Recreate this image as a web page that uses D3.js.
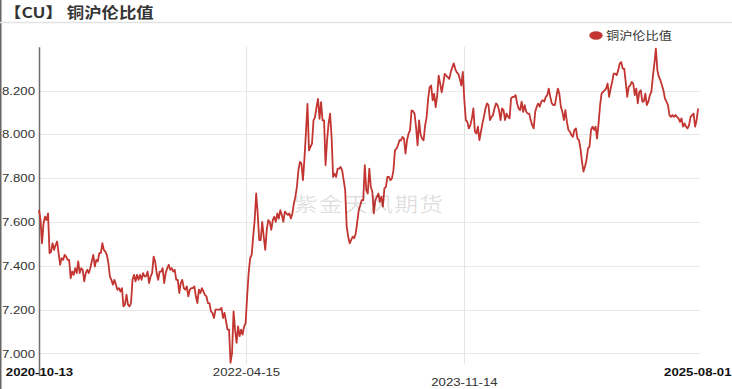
<!DOCTYPE html>
<html>
<head>
<meta charset="utf-8">
<title>铜沪伦比值</title>
<script src="https://cdn.jsdelivr.net/npm/d3@7"></script>
<style>
  html, body { margin: 0; padding: 0; background: #fff; }
  #chart { width: 732px; height: 389px; }
</style>
</head>
<body>
<div id="chart"></div>
<script>
// 数据：起始日期 + 每4天一个点的比值
const startDate = "2020-10-13";
const endDate = "2025-08-01";
const stepDays = 4;

const ratioValues = [
  7.655,7.609,7.503,7.594,7.624,7.609,7.639,7.458,7.465,7.503,
  7.473,7.495,7.511,7.458,7.405,7.435,7.427,7.450,7.442,7.427,
  7.427,7.344,7.374,7.359,7.389,7.367,7.420,7.367,7.389,7.382,
  7.329,7.367,7.382,7.367,7.389,7.420,7.450,7.397,7.427,7.420,
  7.458,7.458,7.503,7.473,7.465,7.450,7.412,7.352,7.336,7.314,
  7.336,7.314,7.291,7.298,7.283,7.298,7.215,7.223,7.268,7.223,
  7.215,7.230,7.336,7.359,7.329,7.359,7.336,7.359,7.336,7.367,
  7.352,7.352,7.374,7.321,7.352,7.367,7.442,7.420,7.367,7.336,
  7.374,7.374,7.389,7.321,7.367,7.389,7.405,7.382,7.389,7.374,
  7.382,7.336,7.336,7.276,7.321,7.336,7.298,7.291,7.306,7.261,
  7.291,7.298,7.298,7.306,7.261,7.230,7.291,7.276,7.298,7.283,
  7.268,7.261,7.230,7.230,7.192,7.185,7.162,7.200,7.200,7.200,
  7.200,7.208,7.162,7.185,7.147,7.109,7.109,6.958,7.003,7.192,
  7.109,7.048,7.124,7.079,7.109,7.086,7.124,7.139,7.261,7.367,
  7.435,7.450,7.533,7.609,
  7.730,7.639,7.518,7.518,7.601,7.533,7.473,7.564,7.609,7.601,
  7.564,7.609,7.624,7.601,7.639,7.616,7.654,7.632,7.601,7.647,
  7.639,7.632,7.639,7.616,7.639,7.685,7.715,7.761,7.836,7.874,
  7.867,7.791,7.889,8.011,8.139,7.927,7.943,7.958,8.064,8.079,
  8.124,8.162,8.071,8.147,8.064,8.064,7.859,7.973,8.049,8.094,
  7.988,7.806,7.821,7.806,7.844,7.844,7.851,7.836,7.791,7.745,
  7.579,7.533,7.503,7.518,7.533,7.526,7.548,7.601,7.654,7.677,
  7.700,7.700,7.859,7.745,7.730,7.844,7.761,7.738,7.639,7.700,
  7.715,7.730,7.692,7.715,7.670,7.753,7.760,7.806,7.806,7.791,
  7.799,7.836,7.927,7.935,7.950,7.973,7.973,7.988,7.981,7.912,
  7.973,8.003,8.018,8.109,8.106,8.094,8.033,7.950,8.064,7.998,
  7.980,7.973,8.041,8.079,8.162,8.215,8.223,8.155,8.185,8.124,
  8.177,8.268,8.230,8.192,8.230,8.276,8.268,8.261,8.253,8.283,
  8.306,8.324,8.298,8.283,8.276,8.253,8.223,
  8.285,8.156,8.065,8.057,8.027,8.042,8.073,8.118,8.012,8.004,
  8.035,7.974,8.012,8.050,8.080,8.118,8.141,8.133,8.065,8.080,
  8.088,8.118,8.141,8.133,8.111,8.065,8.118,8.111,8.065,8.095,
  8.080,8.073,8.164,8.171,8.171,8.179,8.141,8.118,8.111,8.149,
  8.103,8.133,8.103,8.095,8.095,8.065,8.042,8.027,8.103,8.126,
  8.141,8.126,8.149,8.156,8.149,8.171,8.179,8.209,8.171,8.141,
  8.133,8.133,8.171,8.209,8.186,8.126,8.103,8.065,8.111,8.057,
  8.020,8.012,7.996,7.989,8.020,8.027,7.981,7.974,7.936,7.876,
  7.830,7.853,7.883,7.936,7.944,8.020,8.035,8.020,8.035,7.981,
  8.050,8.133,8.186,8.194,8.201,8.209,8.232,8.171,8.209,8.239,
  8.277,8.277,8.270,8.292,8.323,8.330,8.300,8.300,8.239,8.171,
  8.217,8.224,8.239,8.232,8.179,8.209,8.141,8.194,8.201,8.149,
  8.149,8.186,8.133,8.149,8.179,8.194,8.262,8.323,8.391,8.292,
  8.262,8.247,8.224,8.201,8.164,8.149,8.133,8.088,8.080,8.088,
  8.080,8.088,8.080,8.073,8.057,8.073,8.035,8.050,8.035,8.027,
  8.042,8.080,8.088,8.095,8.035,8.065,8.118
];

const yTickValues = [7.0, 7.2, 7.4, 7.6, 7.8, 8.0, 8.2];
const xTickLabels = ["2020-10-13", "2022-04-15", "2023-11-14", "2025-08-01"];
const titleText = "【CU】 铜沪伦比值";
const seriesName = "铜沪伦比值";
const watermarkText = "紫金天风期货";

// 画布尺寸与边距
const width = 732, height = 389;
const margin = { top: 46.7, right: 32, bottom: 13.6, left: 39 };
const stretch = 1.2; // 原图文字横向被拉宽
const numFont = "'Liberation Sans', Arial, sans-serif";
const cjkFont = "'Noto Sans CJK SC', 'Noto Sans', sans-serif";
const lineColor = "#c23531";

const parseDate = d3.timeParse("%Y-%m-%d");
const t0 = parseDate(startDate);
const data = ratioValues.map((v, i) => ({ date: d3.timeDay.offset(t0, i * stepDays), value: v }));

const svg = d3.select("#chart").append("svg")
  .attr("width", width)
  .attr("height", height);

// 比例尺
const x = d3.scaleTime()
  .domain([t0, parseDate(endDate)])
  .range([margin.left, width - margin.right]);
const y = d3.scaleLinear()
  .domain([6.9, 8.4])
  .range([height - margin.bottom, margin.top]);

// 左边框 + 标题 + 分隔线
svg.append("line")
  .attr("x1", 0.75).attr("x2", 0.75).attr("y1", 0).attr("y2", height)
  .attr("stroke", "#666").attr("stroke-width", 1.5);

svg.append("text")
  .attr("transform", `translate(4,18) scale(${stretch},1)`)
  .attr("fill", "#333")
  .style("font", `bold 14.5px ${cjkFont}`)
  .text(titleText);

svg.append("line")
  .attr("x1", 0).attr("x2", width).attr("y1", 22.5).attr("y2", 22.5)
  .attr("stroke", "#e2e2e2").attr("stroke-width", 1.5);

// 图例
const legend = svg.append("g").attr("transform", "translate(596,35.5)");
legend.append("ellipse").attr("rx", 6.7).attr("ry", 4.2).attr("fill", lineColor);
legend.append("text")
  .attr("transform", `translate(10,4) scale(${stretch},1)`)
  .attr("fill", "#333")
  .style("font", `11px ${cjkFont}`)
  .text(seriesName);

// 横向网格线
svg.append("g").selectAll("line")
  .data(yTickValues)
  .join("line")
  .attr("x1", x.range()[0]).attr("x2", x.range()[1])
  .attr("y1", d => Math.round(y(d)) + 0.5).attr("y2", d => Math.round(y(d)) + 0.5)
  .attr("stroke", "#e8e8e8");

// 纵向网格线（中间两个日期）
svg.append("g").selectAll("line")
  .data(xTickLabels.slice(1, -1).map(parseDate))
  .join("line")
  .attr("x1", d => Math.round(x(d)) + 0.5).attr("x2", d => Math.round(x(d)) + 0.5)
  .attr("y1", y(8.4)).attr("y2", y(6.95))
  .attr("stroke", "#e4e4e4");

// 把刻度文字横向拉伸
function stretchText(sel) {
  sel.each(function() {
    const t = d3.select(this);
    const xv = +t.attr("x") || 0;
    t.attr("x", xv / stretch).attr("transform", `scale(${stretch},1)`);
  });
}

// Y 轴
svg.append("g")
  .attr("transform", `translate(${margin.left},0)`)
  .call(d3.axisLeft(y).tickValues(yTickValues).tickFormat(d3.format(".3f"))
    .tickSize(0).tickSizeOuter(0).tickPadding(4))
  .call(g => g.select(".domain").attr("stroke", "#6e6e6e").attr("stroke-width", 1.5))
  .call(g => g.selectAll("text").attr("fill", "#333").style("font", `11px ${numFont}`).call(stretchText));

// X 轴（只有标签）
const xAxis = svg.append("g")
  .attr("transform", `translate(0,${y(6.9) - 9})`)
  .call(d3.axisBottom(x).tickValues(xTickLabels.map(parseDate))
    .tickFormat(d3.timeFormat("%Y-%m-%d")).tickSize(0).tickPadding(2));
xAxis.select(".domain").remove();
xAxis.selectAll("text")
  .attr("fill", "#333")
  .style("font", `11px ${numFont}`)
  .call(stretchText);
const tickTexts = xAxis.selectAll(".tick text");
const nTicks = tickTexts.size();
// 首尾标签加粗，最后一个贴右边缘
tickTexts.filter((d, i) => i === 0 || i === nTicks - 1)
  .attr("fill", "#111")
  .style("font-weight", "bold");
tickTexts.filter((d, i) => i === nTicks - 1)
  .attr("text-anchor", "end")
  .attr("x", (width - 1 - x.range()[1]) / stretch);
// 第三个标签下移一行
tickTexts.filter((d, i) => i === 2)
  .attr("y", 12);

// 折线
svg.append("path")
  .datum(data)
  .attr("fill", "none")
  .attr("stroke", lineColor)
  .attr("stroke-width", 1.8)
  .attr("stroke-linejoin", "round")
  .attr("d", d3.line().x(d => x(d.date)).y(d => y(d.value)));

// 水印
svg.append("text")
  .attr("transform", `translate(369,212) scale(${stretch},1)`)
  .attr("text-anchor", "middle")
  .attr("fill", "#000")
  .attr("fill-opacity", 0.13)
  .style("font", `20px ${cjkFont}`)
  .style("letter-spacing", "1px")
  .text(watermarkText);
</script>
</body>
</html>
